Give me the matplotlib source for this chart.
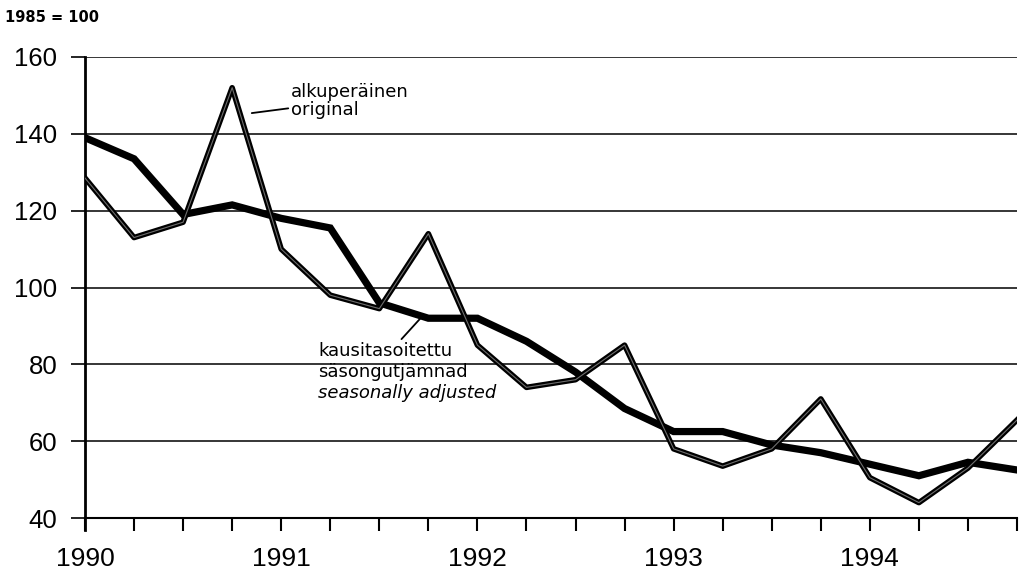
import numpy as np
import matplotlib.pyplot as plt
from matplotlib.ticker import MultipleLocator, FixedLocator

# quarterly index, 1985 = 100
quarters = np.arange(1990, 1995, 0.25)
original = [128.5, 113, 117, 152, 110, 98, 94.5, 114,
            85, 74, 76, 85, 58, 53.5, 58, 71,
            50.5, 44, 53, 65.5]
adjusted = [139, 133.5, 119, 121.5, 118, 115.5, 96, 92,
            92, 86, 78, 68.5, 62.5, 62.5, 59, 57,
            54, 51, 54.5, 52.5]
year_ticks = [1990, 1991, 1992, 1993, 1994]
y_ticks = [40, 60, 80, 100, 120, 140, 160]

narrow = ['Liberation Sans Narrow', 'DejaVu Sans']
plt.rcParams['font.family'] = ['Liberation Sans', 'DejaVu Sans']

fig = plt.figure(figsize=(10.19, 5.72), dpi=100)
ax = fig.add_axes([85 / 1019, 1 - 518 / 572, (1017 - 85) / 1019, (518 - 57) / 572])

for v in y_ticks[1:]:
    ax.axhline(v, color='black', lw=1.1, zorder=1)

ax.plot(quarters, adjusted, color='black', lw=5.2, solid_joinstyle='miter', zorder=3)
ax.plot(quarters, original, color='black', lw=4.0, zorder=4)
ax.plot(quarters, original, color='#6e6e6e', lw=0.8, zorder=5)

ax.set_xlim(1990, 1994.75)
ax.set_ylim(40, 160)
ax.set_yticks(y_ticks)
ax.xaxis.set_major_locator(FixedLocator(year_ticks))
ax.xaxis.set_minor_locator(MultipleLocator(0.25))
ax.set_xticklabels([str(y) for y in year_ticks])

for s in ['top', 'right']:
    ax.spines[s].set_visible(False)
ax.spines['left'].set_linewidth(2)
ax.spines['bottom'].set_linewidth(1.5)
ax.spines['left'].set_bounds(37, 160)

ax.tick_params(axis='y', direction='out', length=10, width=1.2, pad=10, labelsize=18.5)
ax.tick_params(axis='x', which='both', direction='out', length=9, width=1.5, pad=12, labelsize=19)

fig.text(5 / 1019, 1 - 18 / 572, '1985 = 100', fontsize=10.5, fontweight='bold',
         family=narrow, va='center', ha='left')

ax.annotate('alkuperäinen\noriginal', xy=(1990.85, 145.4), xytext=(1991.05, 148.6),
            fontsize=13, family=narrow, va='center', ha='left', linespacing=1.0,
            arrowprops=dict(arrowstyle='-', color='black', lw=1.3, shrinkA=0, shrinkB=0,
                            relpos=(0.0, 0.3)))
ax.annotate('kausitasoitettu', xy=(1991.71, 92), xytext=(1991.19, 83.5),
            fontsize=13, family=narrow, va='center', ha='left',
            arrowprops=dict(arrowstyle='-', color='black', lw=1.3, shrinkA=0, shrinkB=0,
                            relpos=(0.6, 1.0)))
ax.text(1991.19, 78.0, 'säsongutjämnad', fontsize=13, family=narrow, va='center', ha='left')
ax.text(1991.19, 72.5, 'seasonally adjusted', fontsize=13, family=narrow, style='italic',
        va='center', ha='left')

plt.savefig('out.png', dpi=100)
